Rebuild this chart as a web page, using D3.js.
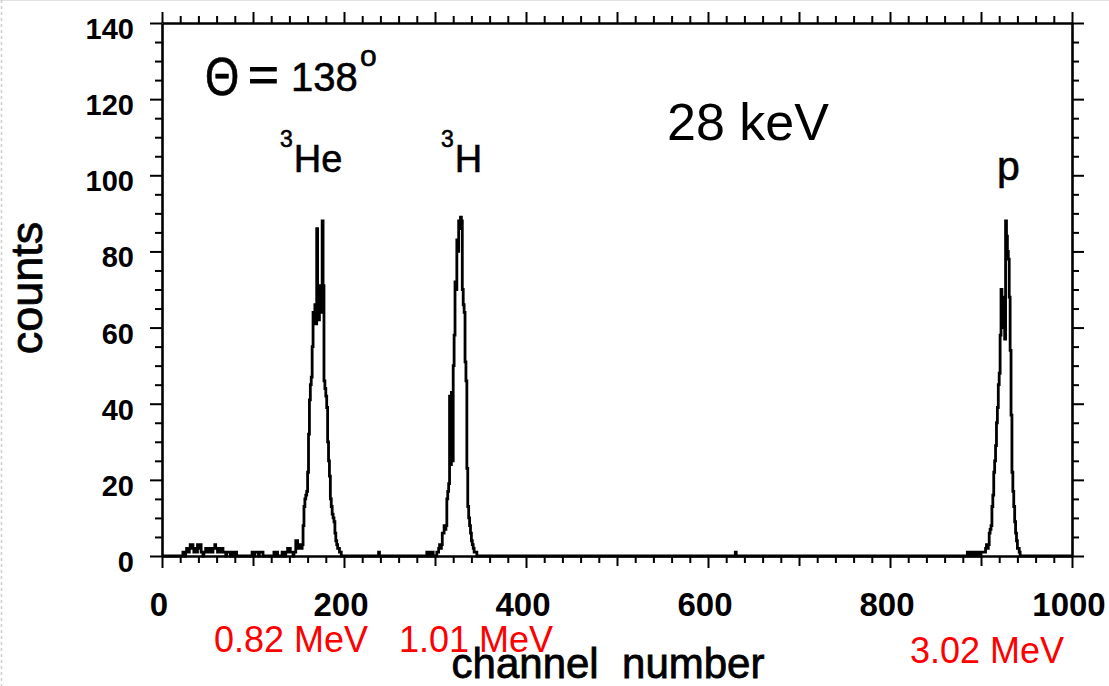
<!DOCTYPE html>
<html><head><meta charset="utf-8">
<script src="https://cdn.jsdelivr.net/npm/d3@7"></script>
<style>
body{margin:0;background:#fff;}
svg{display:block;}
text{font-family:"Liberation Sans",Arial,Helvetica,sans-serif;fill:#000;}
</style></head><body>
<svg id="chart" width="1109" height="686"></svg>
<script>
// ---------------- data ----------------
const yTickLabels = [0, 20, 40, 60, 80, 100, 120, 140];
const xTickLabels = [0, 200, 400, 600, 800, 1000];

// low-energy background, channels 18..152
const lowStart = 18;
const lowCounts = [0,0,0,0,0,
  1,1,0,1,2,2,1,2,
  3,2,3,2,1,2,1,1,
  3,3,2,3,1,1,0,1,1,2,1,
  2,2,1,2,2,1,2,2,3,2,2,1,2,2,1,2,2,1,
  1,1,0,1,1,1,1,0,1,1,1,0,1,1,0,
  0,0,0,0,0,0,0,0,0,0,0,0,0,0,0,0,
  1,1,0,1,1,1,1,0,1,1,1,1,0,
  0,0,0,0,0,0,0,0,0,0,0,
  1,1,0,1,
  0,0,0,0,0,
  1,1,1,0,1,1,
  2,1,2,1,1,1,0,1,1,
  4,4,2,3,3,2];
// 3He peak, channels 153..197
const heStart = 153;
const heCounts = [2,3,8,13,15,16,17,22,32,41,45,47,55,64,62,66,61,86,63,62,66,71,64,88,71,
  46,44,42,39,30,25,21,15,13,11,10,9,6,4,3,2,2,1,1,0];
// 3H peak, channels 288..346
const hStart = 288;
const hCounts = [0,0,0,1,1,1,0,1,1,1,0,0,0,0,1,1,2,3,2,3,6,6,8,7,8,
  15,17,19,42,24,43,25,50,58,72,70,83,80,88,86,89,88,70,66,64,51,46,23,13,10,8,6,4,3,2,1,1,1,0];
// proton peak, channels 882..943
const pStart = 882;
const pCounts = [0,0,0,1,1,0,1,1,0,0,0,1,1,0,1,1,1,0,1,1,1,1,1,2,3,2,3,6,7,8,
  13,16,22,25,29,35,39,45,48,58,70,60,68,62,57,88,84,80,78,68,54,37,22,17,13,9,6,4,2,2,1,0];
// isolated single counts
const blipChannels = [238, 630];
const blipCounts = [1, 1];

const peakNames = ["He", "H", "p"];
const peakMass = ["3", "3", ""];
const energyLabels = ["0.82 MeV", "1.01 MeV", "3.02 MeV"];

// ---------------- build spectrum ----------------
const nChan = 1000;
const spectrum = new Array(nChan + 1).fill(0);
[[lowStart, lowCounts], [heStart, heCounts], [hStart, hCounts], [pStart, pCounts]].forEach(([s, arr]) => {
  arr.forEach((c, i) => { spectrum[s + i] = c; });
});
blipChannels.forEach((ch, i) => { spectrum[ch] = blipCounts[i]; });
const points = spectrum.map((c, ch) => [ch, c]);

// ---------------- chart ----------------
const svg = d3.select("#chart");
const x = d3.scaleLinear().domain([0, 1000]).range([162, 1072]);
const y = d3.scaleLinear().domain([0, 140]).range([556, 23]);

// slide artifacts (page edge)
svg.append("line").attr("x1", 0).attr("x2", 1109).attr("y1", 0.5).attr("y2", 0.5)
  .attr("stroke", "#e2e2e2").attr("stroke-width", 1);
svg.append("line").attr("x1", 1.5).attr("x2", 1.5).attr("y1", 0).attr("y2", 686)
  .attr("stroke", "#cfcfcf").attr("stroke-width", 1.5).attr("stroke-dasharray", "3,3");

// spectrum line
const line = d3.line().x(d => x(d[0])).y(d => y(d[1])).curve(d3.curveStepAfter);
svg.append("path").datum(points)
  .attr("d", line).attr("fill", "none").attr("stroke", "#000")
  .attr("stroke-width", 2.8).attr("stroke-linejoin", "miter");

const xMinor = d3.range(0, 1001, 20);
const yMinor = d3.range(0, 141, 5);

function styleAxis(g) {
  g.select(".domain").attr("stroke", "#000").attr("stroke-width", 2.6);
  g.selectAll(".tick line").attr("stroke", "#000").attr("stroke-width", 2);
  g.selectAll(".tick text").remove();
}

const gb = svg.append("g").attr("transform", `translate(0,${y(0)})`)
  .call(d3.axisBottom(x).tickValues(xMinor).tickSizeOuter(0));
gb.selectAll(".tick line").attr("y2", d => d % 200 === 0 ? 12 : (d % 100 === 0 ? 10 : 7));
styleAxis(gb);

const gt = svg.append("g").attr("transform", `translate(0,${y(140)})`)
  .call(d3.axisTop(x).tickValues(xMinor).tickSizeOuter(0));
gt.selectAll(".tick line").attr("y2", d => d % 100 === 0 ? -11 : -7);
styleAxis(gt);

const gl = svg.append("g").attr("transform", `translate(${x(0)},0)`)
  .call(d3.axisLeft(y).tickValues(yMinor).tickSizeOuter(0));
gl.selectAll(".tick line").attr("x2", d => d % 20 === 0 ? -12 : -7);
styleAxis(gl);

const gr = svg.append("g").attr("transform", `translate(${x(1000)},0)`)
  .call(d3.axisRight(y).tickValues(yMinor).tickSizeOuter(0));
gr.selectAll(".tick line").attr("x2", d => d % 20 === 0 ? 12 : 7);
styleAxis(gr);

// tick labels
svg.append("g").selectAll("text").data(yTickLabels).join("text")
  .attr("x", 134).attr("y", d => y(d) + 16)
  .attr("text-anchor", "end").attr("font-size", 29).attr("font-weight", "bold")
  .text(d => d);
svg.append("g").selectAll("text").data(xTickLabels).join("text")
  .attr("x", d => x(d) - 3).attr("y", 616)
  .attr("text-anchor", "middle").attr("font-size", 33).attr("font-weight", "bold")
  .text(d => d);

// axis titles
svg.append("text").attr("transform", "translate(42,288) rotate(-90)")
  .attr("text-anchor", "middle").attr("font-size", 45)
  .attr("stroke", "#000").attr("stroke-width", 0.8).text("counts");
svg.append("text").attr("x", 608).attr("y", 678).attr("text-anchor", "middle")
  .attr("font-size", 42).attr("stroke", "#000").attr("stroke-width", 0.8)
  .style("white-space", "pre").text("channel  number");

// theta annotation
svg.append("text").attr("transform", "translate(205,95) scale(1,1.22)")
  .attr("font-size", 44).attr("stroke", "#000").attr("stroke-width", 0.6).text("Θ");
svg.append("text").attr("transform", "translate(248,91) scale(1.1,1)")
  .attr("font-size", 48).attr("stroke", "#000").attr("stroke-width", 1).text("=");
svg.append("text").attr("x", 291).attr("y", 91).attr("font-size", 40)
  .attr("stroke", "#000").attr("stroke-width", 0.6).text("138");
svg.append("text").attr("x", 360).attr("y", 66).attr("font-size", 30)
  .attr("stroke", "#000").attr("stroke-width", 0.6).text("o");

// energy
svg.append("text").attr("x", 667).attr("y", 140).attr("font-size", 52).text("28 keV");

// particle labels
const partPos = [[280, 172], [441, 172], [997, 180]];
peakNames.forEach((nm, i) => {
  const t = svg.append("text").attr("x", partPos[i][0]).attr("y", partPos[i][1])
    .attr("stroke", "#000").attr("stroke-width", 0.6);
  if (peakMass[i]) {
    t.append("tspan").attr("font-size", 23).attr("dy", -25).text(peakMass[i]);
    t.append("tspan").attr("font-size", 38).attr("dy", 25).attr("dx", 1).text(nm);
  } else {
    t.append("tspan").attr("font-size", 41).text(nm);
  }
});

// red energy labels
const energyPos = [[291, 652], [476, 652], [987, 663]];
energyLabels.forEach((lb, i) => {
  svg.append("text").attr("x", energyPos[i][0]).attr("y", energyPos[i][1])
    .attr("text-anchor", "middle").attr("font-size", 36).style("fill", "#ff0000").text(lb);
});
</script>
</body></html>
